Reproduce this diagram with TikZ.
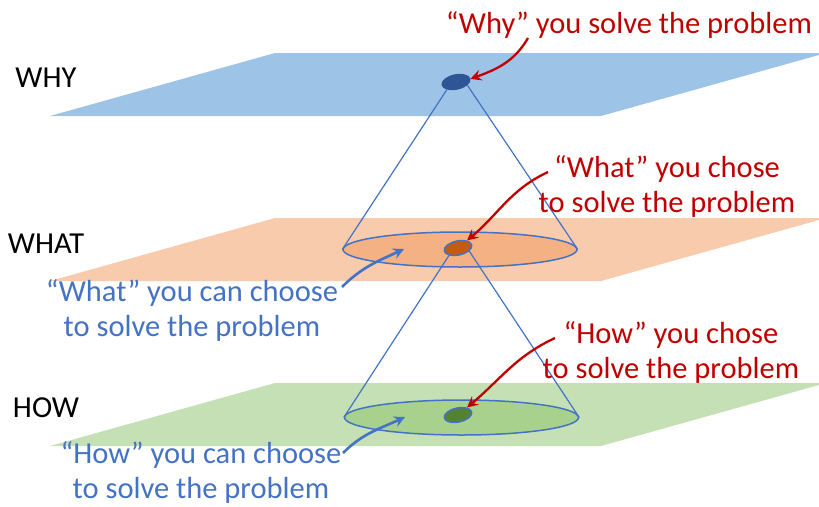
\documentclass[tikz,border=0pt]{standalone}
\usepackage{fontspec}
\setmainfont{Carlito}
\usetikzlibrary{shapes.geometric,arrows.meta}

\definecolor{planeblue}{HTML}{9DC3E6}
\definecolor{planeorange}{HTML}{F8CBAD}
\definecolor{planegreen}{HTML}{C5E0B4}
\definecolor{ellorange}{HTML}{F4B183}
\definecolor{ellgreen}{HTML}{A9D18E}
\definecolor{dotblue}{HTML}{2F5597}
\definecolor{dotorange}{HTML}{C55A11}
\definecolor{dotgreen}{HTML}{548235}
\definecolor{conecol}{HTML}{4472C4}
\definecolor{textred}{HTML}{C00000}
\definecolor{textblue}{HTML}{4472C4}

\begin{document}
\begin{tikzpicture}[
  x=1pt, y=-1pt,
  every node/.style={font=\fontsize{30.5pt}{35pt}\selectfont},
  level/.style={anchor=base, text=black},
  redtext/.style={anchor=base, align=center, text=textred},
  bluetext/.style={anchor=base, align=center, text=textblue},
  ell/.style={ellipse, draw=conecol, line width=1.5pt, minimum width=234pt, minimum height=35pt, inner sep=0pt},
  dot/.style={ellipse, draw=conecol, line width=1.5pt, minimum width=28pt, minimum height=14pt, inner sep=0pt, rotate=12},
  cone/.style={draw=conecol, line width=1.2pt},
  redarrow/.style={draw=textred, line width=2.3pt, -{Stealth[length=11pt, width=11pt, inset=4pt]}},
  bluearrow/.style={draw=textblue, line width=2.6pt, -{Stealth[length=11pt, width=11pt, inset=4pt]}}
]
  \useasboundingbox (0,0) rectangle (819,506);

  \foreach \col/\yy in {planeblue/53, planeorange/218, planegreen/383} {
    \fill[\col] (275,\yy) -- (826,\yy) -- (601,\yy+63) -- (50,\yy+63) -- cycle;
  }

  \node[ell, fill=ellorange] (ewhat) at (460,249.5) {};
  \node[ell, fill=ellgreen] (ehow) at (461.5,417.5) {};

  \node[dot, draw=dotblue, fill=dotblue] (dwhy) at (456,82) {};
  \node[dot, fill=dotorange] (dwhat) at (458,248) {};
  \node[dot, fill=dotgreen] (dhow) at (458,415) {};

  \draw[cone] (dwhy.south west) -- (ewhat.west);
  \draw[cone] (dwhy.south east) -- (ewhat.east);
  \draw[cone] (dwhat.south west) -- (ehow.west);
  \draw[cone] (dwhat.south east) -- (ehow.east);

  \node[level] (lwhy) at (46,87) {WHY};
  \node[level] (lwhat) at (46,253) {WHAT};
  \node[level] (lhow) at (46,417) {HOW};

  \node[redtext] (twhy) at (629,33) {“Why” you solve the problem};
  \node[redtext] (twhat) at (667,212) {“What” you chose\\to solve the problem};
  \node[redtext] (thow) at (671,378) {“How” you chose\\to solve the problem};

  \node[bluetext] (cwhat) at (192,336) {“What” you can choose\\to solve the problem};
  \node[bluetext] (chow) at (201,498) {“How” you can choose\\to solve the problem};

  \coordinate (swhy) at (528,38);
  \coordinate (swhat) at (548,172);
  \coordinate (show) at (555,338);
  \coordinate (scwhat) at (342,287);
  \coordinate (schow) at (343,453);
  \coordinate (ecwhat) at (404,249);
  \coordinate (echow) at (405,417);

  \draw[redarrow] (swhy) to[out=-120, in=20] (dwhy.east);
  \draw[redarrow] (swhat) to[out=-155, in=40] (dwhat.north east);
  \draw[redarrow] (show) to[out=-155, in=40] (dhow.north east);
  \draw[bluearrow] (scwhat) to[out=45, in=-155] (ecwhat);
  \draw[bluearrow] (schow) to[out=45, in=-155] (echow);
\end{tikzpicture}
\end{document}
